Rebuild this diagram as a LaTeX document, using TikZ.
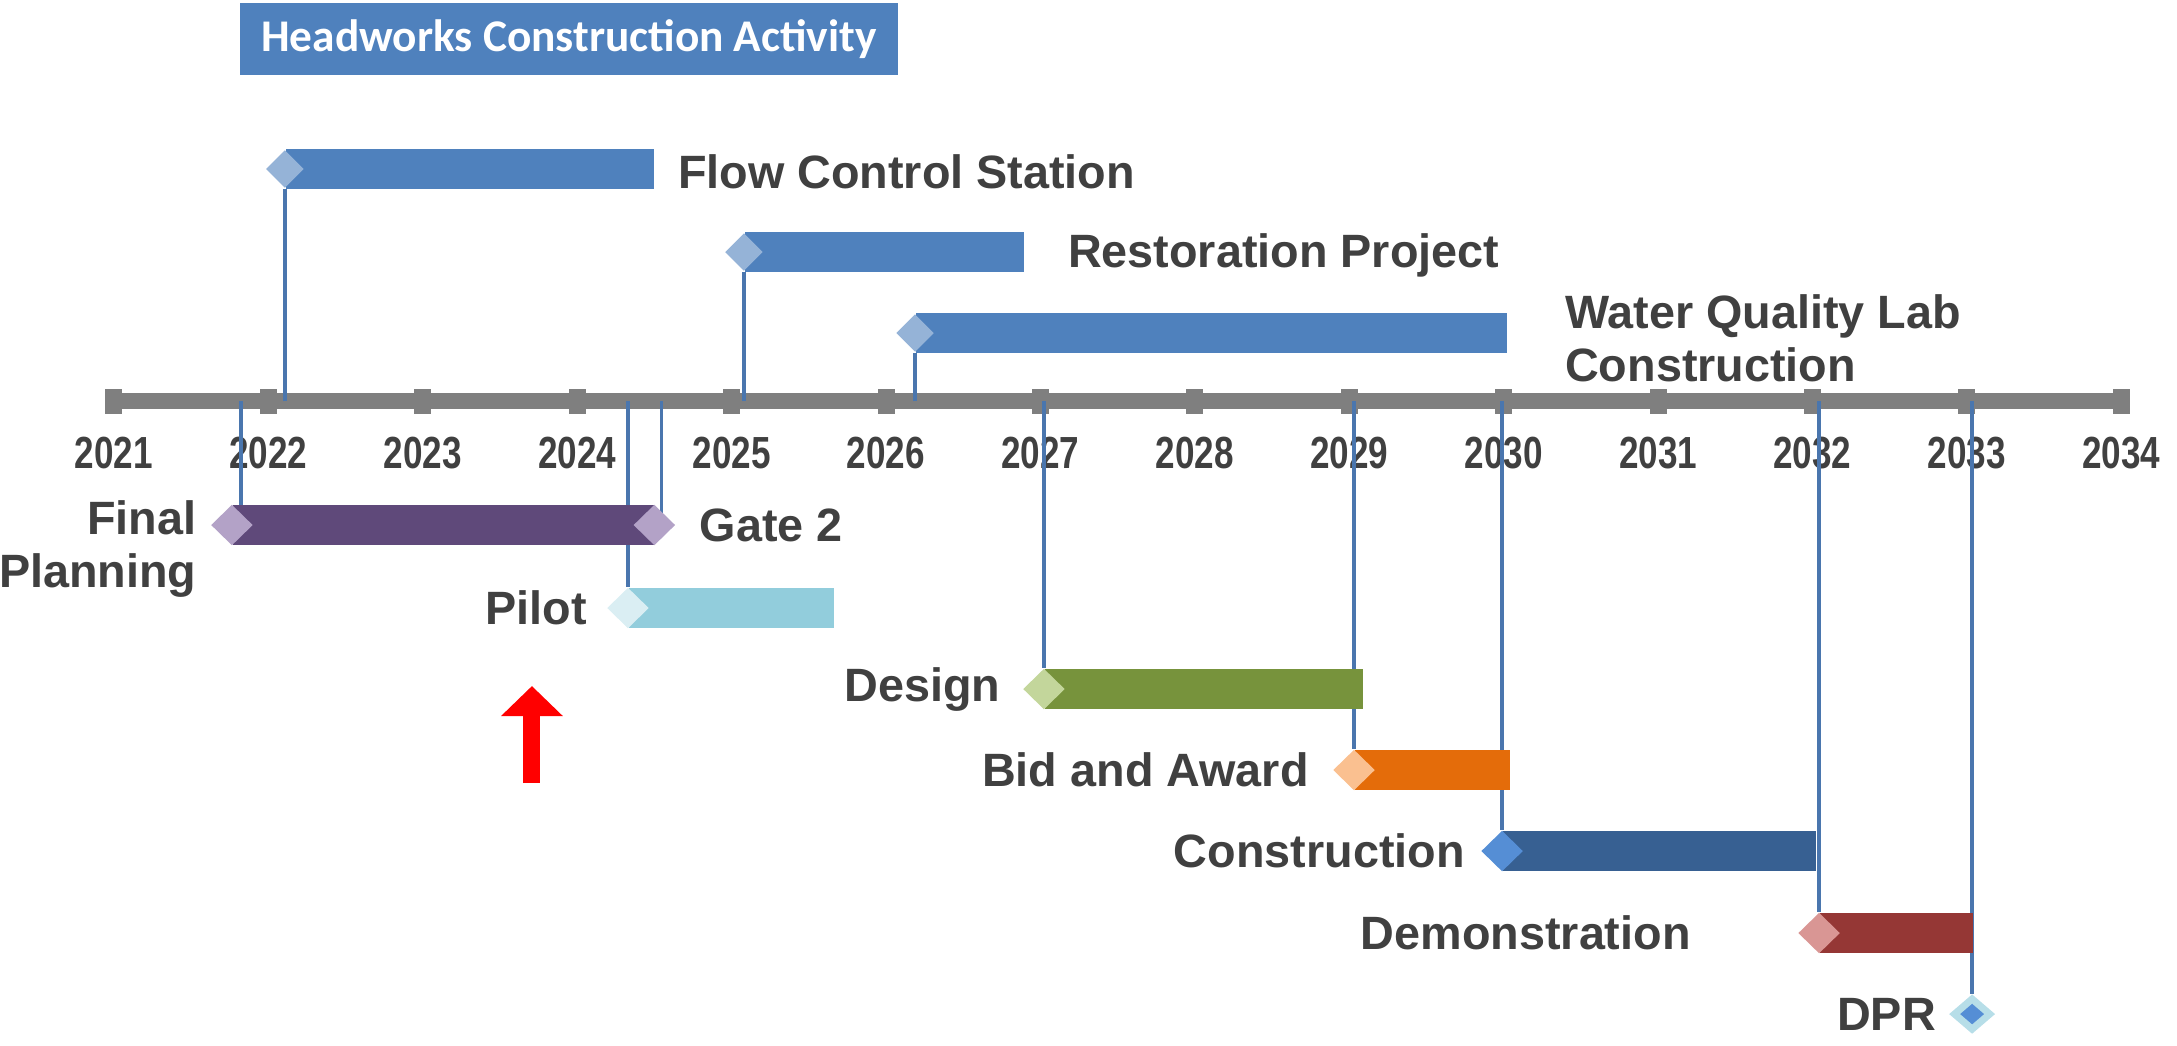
\documentclass[tikz,border=0pt]{standalone}
\usepackage{fontspec}
\setmainfont{Liberation Sans}
\newfontfamily\titlefont{Carlito}
\newfontfamily\yearfont[FakeStretch=0.78]{Liberation Sans}
\usepackage{tikz}
\usetikzlibrary{shapes.geometric,arrows.meta,positioning}

\definecolor{axisgray}{HTML}{7F7F7F}
\definecolor{labelgray}{HTML}{404040}
\definecolor{linkblue}{HTML}{4A76AE}
\definecolor{topbar}{HTML}{4F81BD}
\definecolor{topdia}{HTML}{95B3D7}
\definecolor{planbar}{HTML}{5F497A}
\definecolor{plandia}{HTML}{B3A2C7}
\definecolor{pilotbar}{HTML}{92CDDC}
\definecolor{pilotdia}{HTML}{DAEEF3}
\definecolor{designbar}{HTML}{77933C}
\definecolor{designdia}{HTML}{C3D69B}
\definecolor{bidbar}{HTML}{E46C0A}
\definecolor{biddia}{HTML}{FAC090}
\definecolor{constbar}{HTML}{376092}
\definecolor{constdia}{HTML}{558ED5}
\definecolor{demobar}{HTML}{953735}
\definecolor{demodia}{HTML}{D99694}
\definecolor{dprlight}{HTML}{B7DEE8}

\pgfdeclarelayer{back}
\pgfdeclarelayer{links}
\pgfsetlayers{back,links,main}

\begin{document}
\begin{tikzpicture}[x=1.544cm, y=-1cm]
    \tikzstyle{annot}=[text=labelgray, inner sep=0pt, font=\fontsize{13.3}{15}\selectfont\bfseries]
    \tikzstyle{yearlabel}=[annot, font=\yearfont\fontsize{12.8}{14.8}\selectfont\bfseries]
    \tikzstyle{axistick}=[rectangle, fill=axisgray, inner sep=0pt, minimum width=0.17cm, minimum height=0.25cm]
    \tikzstyle{taskbar}=[rectangle, inner sep=0pt, minimum height=0.40cm, anchor=west]
    \tikzstyle{milestone}=[diamond, inner sep=0pt, minimum width=0.42cm, minimum height=0.41cm]
    \tikzstyle{topmilestone}=[milestone, minimum width=0.38cm, minimum height=0.38cm]
    \tikzstyle{vlink}=[draw=linkblue, line width=1pt]
    \tikzstyle{titlebox}=[rectangle, fill=topbar, text=white, inner sep=0pt, minimum width=6.58cm, minimum height=0.72cm, font=\titlefont\fontsize{12.9}{14}\selectfont\bfseries]

    \useasboundingbox (-0.738,0) rectangle (13.361,10.45);

    \node[titlebox] (title) at (2.947,0.39) {Headworks Construction Activity};

    % Draw the time axis
    \begin{pgfonlayer}{back}
    \coordinate (axis-start) at (0,4.01);
    \coordinate (axis-end) at (13,4.01);
    \draw[axisgray, line width=0.16cm] (axis-start) -- (axis-end);
    \foreach \k in {0,...,13} {
        \pgfmathtruncatemacro{\yr}{2021+\k}
        \node[axistick] (T-\k) at (\k,4.01) {};
        \node[yearlabel] (Y-\k) at (\k,4.53) {\yr};
    }
    \end{pgfonlayer}

    % Activities above the axis
    \node[taskbar, fill=topbar, minimum width=3.68cm] (fcs-bar) at (1.107,1.69) {};
    \node[topmilestone, fill=topdia] (fcs) at (1.107,1.69) {};
    \node[annot, right=0.23cm of fcs-bar, yshift=-0.03cm] (fcs-lbl) {Flow Control Station};

    \node[taskbar, fill=topbar, minimum width=2.79cm] (rp-bar) at (4.08,2.52) {};
    \node[topmilestone, fill=topdia] (rp) at (4.08,2.52) {};
    \node[annot, right=0.43cm of rp-bar, yshift=-0.03cm] (rp-lbl) {Restoration Project};

    \node[taskbar, fill=topbar, minimum width=5.91cm] (wql-bar) at (5.188,3.33) {};
    \node[topmilestone, fill=topdia] (wql) at (5.188,3.33) {};
    \node[annot, align=left, right=0.57cm of wql-bar, yshift=-0.05cm] (wql-lbl) {Water Quality Lab\\Construction};

    % Activities below the axis
    \node[taskbar, fill=planbar, minimum width=4.21cm] (fp-bar) at (0.764,5.25) {};
    \node[milestone, fill=plandia] (fp) at (0.764,5.25) {};
    \node[milestone, fill=plandia] (gate) at (fp-bar.east) {};
    \node[annot, align=right, left=0.13cm of fp, yshift=-0.24cm] (fp-lbl) {Final\\Planning};
    \node[annot, right=0.23cm of gate] (gate-lbl) {Gate 2};
    \coordinate (fp-x) at ([xshift=0.09cm]fp.center);
    \coordinate (gate-x) at ([xshift=0.07cm]gate.center);

    \node[taskbar, fill=pilotbar, minimum width=2.05cm] (pilot-bar) at (3.329,6.08) {};
    \node[milestone, fill=pilotdia] (pilot) at (3.329,6.08) {};
    \node[annot, left=0.19cm of pilot] (pilot-lbl) {Pilot};

    \node[taskbar, fill=designbar, minimum width=3.18cm] (design-bar) at (6.023,6.89) {};
    \node[milestone, fill=designdia] (design) at (6.023,6.89) {};
    \node[annot, left=0.21cm of design] (design-lbl) {Design};

    \node[taskbar, fill=bidbar, minimum width=1.55cm] (bid-bar) at (8.031,7.70) {};
    \node[milestone, fill=biddia] (bid) at (8.031,7.70) {};
    \node[annot, left=0.23cm of bid] (bid-lbl) {Bid and Award};

    \node[taskbar, fill=constbar, minimum width=3.13cm] (const-bar) at (8.99,8.51) {};
    \node[milestone, fill=constdia] (const) at (8.99,8.51) {};
    \node[annot, left=0.15cm of const] (const-lbl) {Construction};

    \node[taskbar, fill=demobar, minimum width=1.53cm] (demo-bar) at (11.043,9.33) {};
    \node[milestone, fill=demodia] (demo) at (11.043,9.33) {};
    \node[annot, left=1.06cm of demo] (demo-lbl) {Demonstration};

    \node[milestone, fill=constdia, draw=dprlight, line width=0.07cm, minimum width=0.38cm, minimum height=0.33cm] (dpr) at (12.034,10.14) {};
    \node[annot, left=0.13cm of dpr] (dpr-lbl) {DPR};

    % Tie the activities to the axis
    \begin{pgfonlayer}{links}
    \foreach \t in {fcs,rp,wql,fp-x,gate-x,pilot,design,bid,const,demo,dpr}
        \path[vlink] (\t |- axis-start) edge (\t);
    \end{pgfonlayer}

    % Pointer to the pilot
    \coordinate (arrow-tail) at (2.707,7.83);
    \coordinate (arrow-tip) at (2.707,6.86);
    \draw[red, line width=0.17cm, -{Triangle[width=0.6cm,length=0.3cm]}] (arrow-tail) -- (arrow-tip);
\end{tikzpicture}
\end{document}
